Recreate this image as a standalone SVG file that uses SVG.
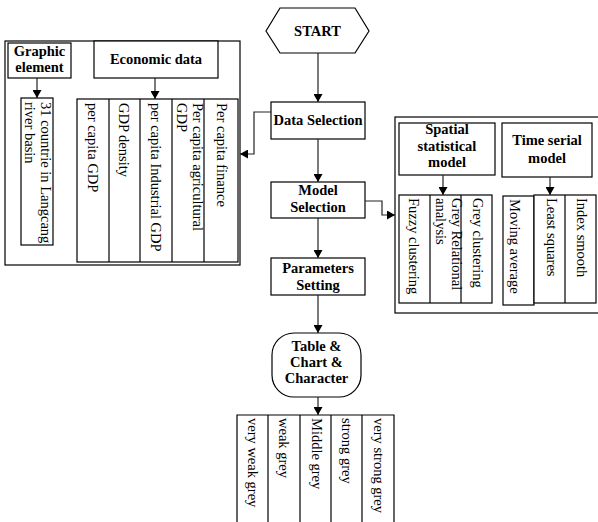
<svg xmlns="http://www.w3.org/2000/svg" width="598" height="522" viewBox="0 0 598 522">
<style>
.b{fill:#fff;stroke:#000;stroke-width:1.2}
.c{fill:none;stroke:#222;stroke-width:1.2}
.h{font-family:"Liberation Serif","Times New Roman",serif;font-size:14.5px;font-weight:bold;text-anchor:middle;fill:#000}
.v{font-family:"Liberation Serif","Times New Roman",serif;font-size:14.5px;fill:#000}
</style>
<defs>
<marker id="ah" markerWidth="9" markerHeight="9" refX="8" refY="4.5" orient="auto" markerUnits="userSpaceOnUse">
<path d="M0,0 L8,4.5 L0,9 Z" fill="#000"/>
</marker>
</defs>
<rect width="598" height="522" fill="#fff"/>

<g id="left-panel">
<rect class="b" x="5" y="41" width="235" height="224"/>
</g>
<g id="graphic-element">
<rect class="b" x="8" y="43" width="63" height="35"/>
<text class="h" x="39.5" y="56">Graphic</text>
<text class="h" x="39.5" y="72">element</text>
</g>
<g id="economic-data">
<rect class="b" x="94" y="41" width="124" height="37"/>
<text class="h" x="156" y="64">Economic data</text>
</g>
<g id="countries">
<rect class="b" x="21" y="98" width="32" height="147"/>
<text class="v" transform="translate(41,102) rotate(90)">31 countrie in Langcang</text>
<text class="v" transform="translate(25,102) rotate(90)">river basin</text>
</g>
<g id="economic-columns">
<rect class="b" x="77" y="99" width="161" height="163"/>
<line class="b" x1="109" y1="99" x2="109" y2="262"/>
<line class="b" x1="140" y1="99" x2="140" y2="262"/>
<line class="b" x1="172" y1="99" x2="172" y2="262"/>
<line class="b" x1="204" y1="99" x2="204" y2="262"/>
<text class="v" transform="translate(88,103) rotate(90)">per capita GDP</text>
<text class="v" transform="translate(119,103) rotate(90)">GDP density</text>
<text class="v" transform="translate(151,103) rotate(90)">per capita Industrial GDP</text>
<text class="v" transform="translate(193,103) rotate(90)">Per capita agricultural</text>
<text class="v" transform="translate(177,103) rotate(90)">GDP</text>
<text class="v" transform="translate(217,103) rotate(90)">Per capita finance</text>
</g>

<g id="start">
<polygon class="b" points="266,31 280,8 355,8 369,31 355,53 280,53"/>
<text class="h" x="317.5" y="36">START</text>
</g>
<g id="data-selection">
<rect class="b" x="271" y="102" width="94" height="37"/>
<text class="h" x="318" y="125">Data Selection</text>
</g>
<g id="model-selection">
<rect class="b" x="271" y="182" width="94" height="36"/>
<text class="h" x="318" y="195">Model</text>
<text class="h" x="318" y="212">Selection</text>
</g>
<g id="parameters-setting">
<rect class="b" x="271" y="258" width="94" height="37"/>
<text class="h" x="318" y="273">Parameters</text>
<text class="h" x="318" y="290">Setting</text>
</g>
<g id="table-chart">
<rect class="b" x="272" y="333" width="89" height="64" rx="22" ry="22"/>
<text class="h" x="316.5" y="351">Table &amp;</text>
<text class="h" x="316.5" y="367">Chart &amp;</text>
<text class="h" x="316.5" y="383">Character</text>
</g>
<g id="grey-columns">
<polyline class="b" fill="none" points="237,522 237,415 394,415 394,522"/>
<line class="b" x1="268" y1="415" x2="268" y2="522"/>
<line class="b" x1="300" y1="415" x2="300" y2="522"/>
<line class="b" x1="331" y1="415" x2="331" y2="522"/>
<line class="b" x1="362" y1="415" x2="362" y2="522"/>
<text class="v" transform="translate(248,418) rotate(90)">very weak grey</text>
<text class="v" transform="translate(279,418) rotate(90)">weak grey</text>
<text class="v" transform="translate(312,418) rotate(90)">Middle grey</text>
<text class="v" transform="translate(342,418) rotate(90)">strong grey</text>
<text class="v" transform="translate(374,418) rotate(90)">very strong grey</text>
</g>

<g id="right-panel">
<rect class="b" x="395" y="117" width="215" height="196"/>
</g>
<g id="spatial-model">
<rect class="b" x="399" y="123" width="96" height="52"/>
<text class="h" x="447" y="134">Spatial</text>
<text class="h" x="447" y="151">statistical</text>
<text class="h" x="447" y="167">model</text>
</g>
<g id="time-model">
<rect class="b" x="502" y="123" width="90" height="54"/>
<text class="h" x="547" y="145">Time serial</text>
<text class="h" x="547" y="163">model</text>
</g>
<g id="spatial-columns">
<rect class="b" x="399" y="195" width="93" height="108"/>
<line class="b" x1="430" y1="195" x2="430" y2="303"/>
<line class="b" x1="461" y1="195" x2="461" y2="303"/>
<text class="v" transform="translate(409,198) rotate(90)">Fuzzy clustering</text>
<text class="v" transform="translate(452,198) rotate(90)">Grey Relational</text>
<text class="v" transform="translate(436,198) rotate(90)">analysis</text>
<text class="v" transform="translate(473,198) rotate(90)">Grey clustering</text>
</g>
<g id="time-columns">
<rect class="b" x="503" y="196" width="31" height="109"/>
<rect class="b" x="534" y="195" width="62" height="108"/>
<line class="b" x1="565" y1="195" x2="565" y2="303"/>
<text class="v" transform="translate(510,199) rotate(90)">Moving average</text>
<text class="v" transform="translate(547,198) rotate(90)">Least squares</text>
<text class="v" transform="translate(577,198) rotate(90)">Index smooth</text>
</g>

<g id="connectors">
<line class="c" x1="318" y1="53" x2="318" y2="102" marker-end="url(#ah)"/>
<polyline class="c" points="271,112 254,112 254,154 240,154" marker-end="url(#ah)"/>
<line class="c" x1="318" y1="139" x2="318" y2="182" marker-end="url(#ah)"/>
<polyline class="c" points="365,201 382,201 382,215 395,215" marker-end="url(#ah)"/>
<line class="c" x1="318" y1="218" x2="318" y2="258" marker-end="url(#ah)"/>
<line class="c" x1="318" y1="295" x2="318" y2="333" marker-end="url(#ah)"/>
<line class="c" x1="318" y1="397" x2="318" y2="415" marker-end="url(#ah)"/>
<line class="c" x1="37" y1="78" x2="37" y2="98" marker-end="url(#ah)"/>
<line class="c" x1="155" y1="78" x2="155" y2="99" marker-end="url(#ah)"/>
<line class="c" x1="443" y1="175" x2="443" y2="195" marker-end="url(#ah)"/>
<line class="c" x1="550" y1="177" x2="550" y2="195" marker-end="url(#ah)"/>
</g>
</svg>
